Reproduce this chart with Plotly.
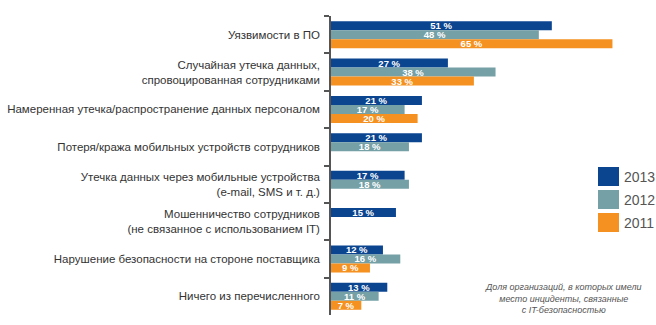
import plotly.graph_objects as go

categories = [
    "Уязвимости в ПО",
    "Случайная утечка данных,<br>спровоцированная сотрудниками",
    "Намеренная утечка/распространение данных персоналом",
    "Потеря/кража мобильных устройств сотрудников",
    "Утечка данных через мобильные устройства<br>(e-mail, SMS и т. д.)",
    "Мошенничество сотрудников<br>(не связанное с использованием IT)",
    "Нарушение безопасности на стороне поставщика",
    "Ничего из перечисленного",
]
series_names = ["2013", "2012", "2011"]
values_2013 = [51, 27, 21, 21, 17, 15, 12, 13]
values_2012 = [48, 38, 17, 18, 18, None, 16, 11]
values_2011 = [65, 33, 20, None, None, None, 9, 7]
colors = ["#0b4590", "#75a0a6", "#f59120"]
note_lines = ["Доля организаций, в которых имели", "место инциденты, связанные", "с IT-безопасностью"]

W, H = 656, 325
ML, MR, MT, MB = 331, 0, 16, 10

fig = go.Figure()
for name, vals, col in zip(series_names, [values_2013, values_2012, values_2011], colors):
    fig.add_trace(go.Bar(
        y=categories, x=vals, name=name, orientation="h",
        marker=dict(color=col, line=dict(width=0)),
        texttemplate="%{x} %", textposition="inside", insidetextanchor="middle",
        constraintext="none",
        textfont=dict(family="Arial", size=9.5, color="white", weight="bold"),
        showlegend=False, hoverinfo="skip",
    ))

pw = W - ML - MR
ph = H - MT - MB

def px(x):
    return (x - ML) / pw

def py(y):
    return 1 - (y - MT) / ph

shapes = []
annotations = []
leg_top = [167, 190, 213]
for name, col, t in zip(series_names, colors, leg_top):
    shapes.append(dict(type="rect", xref="paper", yref="paper",
                       x0=px(598), x1=px(619), y0=py(t + 19), y1=py(t),
                       fillcolor=col, line=dict(width=0)))
    annotations.append(dict(xref="paper", yref="paper", x=px(622), y=py(t + 9.5),
                            text=name, showarrow=False, xanchor="left", yanchor="middle",
                            font=dict(family="Arial", size=14, color="#555555")))

annotations.append(dict(xref="paper", yref="paper", x=px(563), y=py(298),
                        text="<br>".join(note_lines), showarrow=False,
                        xanchor="center", yanchor="middle", align="center",
                        font=dict(family="Arial", size=9, color="#555555", style="italic")))

fig.update_layout(
    width=W, height=H,
    margin=dict(l=ML, r=MR, t=MT, b=MB, pad=0),
    barmode="group", bargap=0.28, bargroupgap=0,
    plot_bgcolor="white", paper_bgcolor="white",
    xaxis=dict(range=[0, pw / 4.33], visible=False),
    yaxis=dict(autorange="reversed", showline=True, linecolor="#555555", linewidth=1.5,
               ticks="outside", ticklen=5, tickcolor="#555555", tickwidth=1.5,
               tickson="boundaries", showgrid=False, ticklabelstandoff=7,
               tickfont=dict(family="Arial", size=11.5, color="#333333")),
    shapes=shapes, annotations=annotations,
)
fig.write_html("out.html")
